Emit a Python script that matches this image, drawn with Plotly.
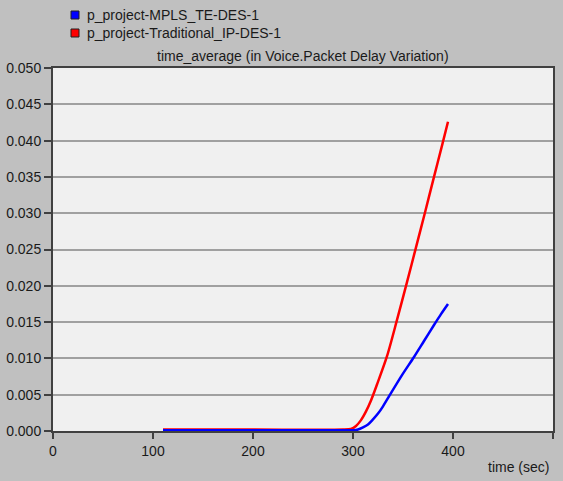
import plotly.graph_objects as go

# time (sec)
red_x = [110, 200, 290, 298, 303, 308, 313, 318, 324, 334, 344, 354, 363, 372, 381, 389, 395]
red_y = [0.0002, 0.0002, 0.0002, 0.0003, 0.0007, 0.0015, 0.0027, 0.0042, 0.0064, 0.0103,
         0.0153, 0.0205, 0.0253, 0.0301, 0.0350, 0.0393, 0.0426]

blue_x = [110, 200, 290, 300, 305, 310, 315, 320, 325, 330, 337, 349, 361, 371, 381, 388, 395]
blue_y = [0.0001, 0.0001, 0.0001, 0.0001, 0.0002, 0.0005, 0.0009, 0.0016, 0.0024, 0.0034,
          0.0050, 0.0077, 0.0102, 0.0124, 0.0146, 0.0161, 0.0175]

series_names = ["p_project-MPLS_TE-DES-1", "p_project-Traditional_IP-DES-1"]
series_colors = ["#0000ff", "#ff0000"]
chart_title = "time_average (in Voice.Packet Delay Variation)"
x_title = "time (sec)"

FONT = "Liberation Sans, Arial, sans-serif"
TXT = "#1a1a1a"

fig = go.Figure()
fig.add_trace(go.Scatter(x=red_x, y=red_y, mode="lines", name=series_names[1],
                         line=dict(color=series_colors[1], width=2.5, shape="spline", smoothing=0.8),
                         showlegend=False))
fig.add_trace(go.Scatter(x=blue_x, y=blue_y, mode="lines", name=series_names[0],
                         line=dict(color=series_colors[0], width=2.5, shape="spline", smoothing=0.8),
                         showlegend=False))

# legend swatches + labels (paper coordinates)
PW, PH, ML, MT = 500.0, 363.0, 53.0, 68.0
def px_x(p):
    return (p - ML) / PW
def px_y(p):
    return (MT + PH - p) / PH

shapes = []
annotations = []
legend_rows = [11.0, 29.0]
for name, col, top in zip(series_names, series_colors, legend_rows):
    shapes.append(dict(type="rect", xref="paper", yref="paper",
                       x0=px_x(71), x1=px_x(79), y0=px_y(top + 8), y1=px_y(top),
                       fillcolor=col, line=dict(color="#202020", width=1)))
    annotations.append(dict(text=name, xref="paper", yref="paper", x=px_x(85), y=px_y(top + 4),
                            xanchor="left", yanchor="middle", showarrow=False,
                            font=dict(family=FONT, size=14, color=TXT)))

annotations.append(dict(text=chart_title, x=0.5, y=px_y(66), xref="paper", yref="paper",
                        xanchor="center", yanchor="bottom", showarrow=False,
                        font=dict(family=FONT, size=14, color=TXT)))
annotations.append(dict(text=x_title, x=px_x(551), y=px_y(467), xref="paper", yref="paper",
                        xanchor="right", yanchor="middle", showarrow=False,
                        font=dict(family=FONT, size=14, color=TXT)))

fig.update_layout(
    width=563, height=481,
    margin=dict(l=53, r=10, t=68, b=50, autoexpand=False),
    paper_bgcolor="#c0c0c0",
    plot_bgcolor="#f0f0f0",
    font=dict(family=FONT, size=14, color=TXT),
    showlegend=False,
    shapes=shapes,
    annotations=annotations,
)

fig.update_xaxes(range=[0, 500], dtick=100, tick0=0, showgrid=False, zeroline=False,
                 showline=True, linecolor="#404040", linewidth=2, mirror=True,
                 ticks="outside", ticklen=6, tickcolor="#404040", tickwidth=2,
                 automargin=False,
                 tickfont=dict(family=FONT, size=14, color=TXT))
fig.update_yaxes(range=[0, 0.05], dtick=0.005, tick0=0, tickformat=".3f",
                 showgrid=True, gridcolor="#a0a0a0", gridwidth=1.5, zeroline=False,
                 showline=True, linecolor="#404040", linewidth=2, mirror=True,
                 ticks="outside", ticklen=7, tickcolor="#404040", tickwidth=2,
                 automargin=False,
                 tickfont=dict(family=FONT, size=14, color=TXT))

fig.write_html("out.html",
               config={"displayModeBar": False},
               post_script="document.body.style.margin='0px';document.body.style.background='#c0c0c0';document.body.style.overflow='hidden';")
